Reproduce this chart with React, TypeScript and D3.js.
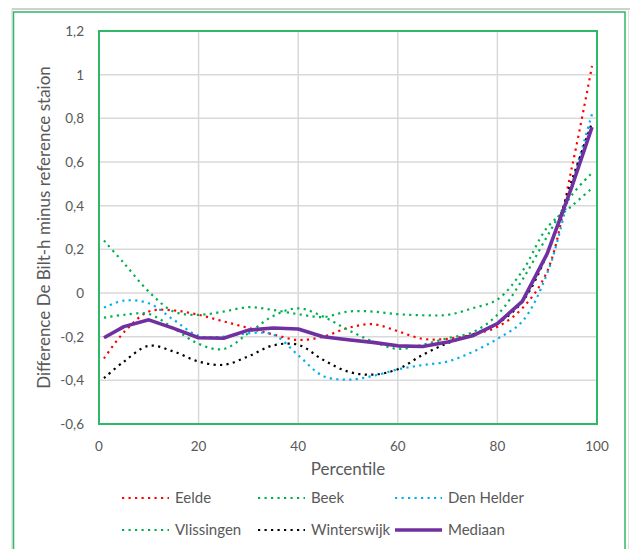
import { curveCatmullRom, formatLocale, line, scaleLinear } from "d3";

const percentiles = [1, 5, 10, 15, 20, 25, 30, 35, 40, 45, 50, 55, 60, 65, 70, 75, 80, 85, 90, 95, 99];

const eelde = [-0.3, -0.18, -0.085, -0.08, -0.1, -0.13, -0.16, -0.19, -0.215, -0.2, -0.16, -0.143, -0.175, -0.21, -0.21, -0.19, -0.155, -0.07, 0.1, 0.58, 1.04];
const beek = [-0.113, -0.1, -0.096, -0.162, -0.233, -0.257, -0.184, -0.105, -0.07, -0.108, -0.169, -0.222, -0.256, -0.237, -0.207, -0.18, -0.1, 0.06, 0.26, 0.45, 0.55];
const denHelder = [-0.067, -0.035, -0.047, -0.123, -0.196, -0.2, -0.184, -0.19, -0.285, -0.38, -0.397, -0.38, -0.35, -0.33, -0.314, -0.27, -0.21, -0.13, 0.09, 0.5, 0.82];
const vlissingen = [0.24, 0.137, 0.006, -0.085, -0.1, -0.085, -0.065, -0.078, -0.097, -0.11, -0.085, -0.085, -0.097, -0.102, -0.1, -0.07, -0.03, 0.1, 0.3, 0.4, 0.48];
const winterswijk = [-0.39, -0.314, -0.242, -0.268, -0.314, -0.329, -0.29, -0.24, -0.237, -0.306, -0.36, -0.374, -0.349, -0.283, -0.23, -0.19, -0.14, -0.04, 0.18, 0.52, 0.78];
const mediaan = [-0.205, -0.154, -0.123, -0.162, -0.205, -0.207, -0.17, -0.16, -0.165, -0.2, -0.214, -0.226, -0.242, -0.245, -0.224, -0.196, -0.14, -0.038, 0.18, 0.49, 0.76];

const xTicks = [0, 20, 40, 60, 80, 100];
const yTicks = [-0.6, -0.4, -0.2, 0, 0.2, 0.4, 0.6, 0.8, 1, 1.2];

const series = [
  { name: "Eelde", values: eelde, color: "#ff0000", dotted: true },
  { name: "Beek", values: beek, color: "#00b050", dotted: true },
  { name: "Den Helder", values: denHelder, color: "#00b0f0", dotted: true },
  { name: "Vlissingen", values: vlissingen, color: "#00b050", dotted: true },
  { name: "Winterswijk", values: winterswijk, color: "#000000", dotted: true },
  { name: "Mediaan", values: mediaan, color: "#7030a0", dotted: false }
];

const nl = formatLocale({ decimal: ",", thousands: ".", grouping: [3], currency: ["", "€"], minus: "-" });
const fmt = nl.format(".1~f");

const font = "Lato, 'Open Sans', sans-serif";
const textColor = "#595959";

export default function App() {
  const width = 630;
  const height = 549;
  const plot = { left: 99, right: 597, top: 31, bottom: 424 };

  const x = scaleLinear().domain([0, 100]).range([plot.left, plot.right]);
  const y = scaleLinear().domain([-0.6, 1.2]).range([plot.bottom, plot.top]);

  const smooth = line<number>()
    .x((_, i) => x(percentiles[i]))
    .y((d) => y(d))
    .curve(curveCatmullRom.alpha(0.5));
  const straight = line<number>()
    .x((_, i) => x(percentiles[i]))
    .y((d) => y(d));

  const legendCols = [122, 258, 395];
  const legendRows = [498, 530];

  return (
    <div style={{ position: "absolute", left: 0, top: 0 }}>
      <svg width={width} height={height} viewBox={`0 0 ${width} ${height}`} style={{ display: "block", background: "#fff" }}>
        <line x1={12} x2={630} y1={9} y2={9} stroke="#d0d0d0" strokeWidth="2" />
        <line x1={12} x2={12} y1={9} y2={549} stroke="#d0d0d0" strokeWidth="1" />
        <line x1={628.5} x2={628.5} y1={9} y2={549} stroke="#e2e2e2" strokeWidth="1" />
        <rect x={13.5} y={12} width={611.5} height={560} fill="#fff" stroke="#2fb866" strokeWidth="1.5" />

        {yTicks.map((t) => (
          <g key={t}>
            <line x1={plot.left} x2={plot.right} y1={y(t)} y2={y(t)} stroke="#d9d9d9" strokeWidth="1.5" />
            <text x={84} y={y(t) + 5} textAnchor="end" fill={textColor} fontFamily={font} fontSize="13.5">
              {fmt(t)}
            </text>
          </g>
        ))}
        {xTicks.map((t) => (
          <g key={t}>
            <line x1={x(t)} x2={x(t)} y1={plot.top} y2={plot.bottom} stroke="#d9d9d9" strokeWidth="1.5" />
            <text x={x(t)} y={451} textAnchor="middle" fill={textColor} fontFamily={font} fontSize="13.5">
              {t}
            </text>
          </g>
        ))}

        {series.map((s) => (
          <path
            key={s.name}
            d={(s.dotted ? smooth(s.values) : straight(s.values)) ?? ""}
            fill="none"
            stroke={s.color}
            strokeWidth={s.dotted ? 2.2 : 3.6}
            strokeDasharray={s.dotted ? "2.2 4.3" : undefined}
            strokeLinejoin="round"
          />
        ))}

        <rect x={plot.left} y={plot.top} width={plot.right - plot.left} height={plot.bottom - plot.top} fill="none" stroke="#2fb866" strokeWidth="2" />

        <text x={348} y={475} textAnchor="middle" fill={textColor} fontFamily={font} fontSize="17">
          Percentile
        </text>
        <text
          transform={`translate(50, ${(plot.top + plot.bottom) / 2}) rotate(-90)`}
          textAnchor="middle"
          fill={textColor}
          fontFamily={font}
          fontSize="17"
        >
          Difference De Bilt-h minus reference staion
        </text>

        {series.map((s, i) => {
          const lx = legendCols[i % 3];
          const ly = legendRows[Math.floor(i / 3)];
          return (
            <g key={s.name}>
              <line
                x1={lx}
                x2={lx + 47}
                y1={ly}
                y2={ly}
                stroke={s.color}
                strokeWidth={s.dotted ? 2.2 : 3.6}
                strokeDasharray={s.dotted ? "2.2 4.3" : undefined}
              />
              <text x={lx + 53} y={ly + 5} fill={textColor} fontFamily={font} fontSize="15">
                {s.name}
              </text>
            </g>
          );
        })}
      </svg>
    </div>
  );
}
